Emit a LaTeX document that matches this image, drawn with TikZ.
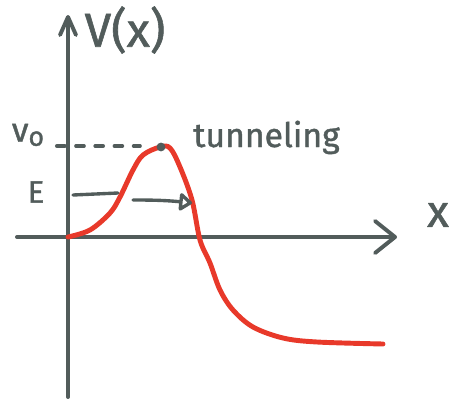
\documentclass[tikz,border=0pt]{standalone}
\usepackage{fontspec}
\setmainfont{Fira Sans}[FakeBold=1.2]
\usetikzlibrary{arrows.meta}
\definecolor{ink}{HTML}{525C5B}
\definecolor{pen}{HTML}{E8392A}

\begin{document}
\begin{tikzpicture}[every node/.style={text=ink, inner sep=0pt}, line cap=round, line join=round,
	axis/.style={draw=ink, line width=2.8pt},
	hand/.style={font=\fontsize{#1}{#1}\selectfont}]
	\useasboundingbox (-1.7,-4.25) rectangle (9.725,5.925);
	\draw[axis, -{Straight Barb[length=4.5mm, width=4mm, round]}] (0,-4.0) -- (0,5.55);
	\draw[axis, -{Straight Barb[length=5mm, width=8mm, round]}] (-1.275,0) -- (8.225,0);
	\node[hand=34] (V) at (1.425,5.175) {V(x)};
	\node[hand=32] (X) at (9.25,0.55) {x};
	\node[hand=24] (V0) at (-1.0,2.55) {v\raisebox{-0.12em}{\fontsize{19}{19}\selectfont o}};
	\node[hand=22] (E) at (-0.8,1.125) {E};
	\node[hand=24, anchor=base west] (T) at (3.125,2.25) {tunneling};
	\coordinate (top) at (2.325,2.25);
	\draw[ink, line width=2.6pt, dash pattern=on 0.2cm off 0.28cm] (-0.28,2.275) -- (1.8,2.275);
	\draw[pen, line width=3.5pt] plot[smooth, tension=0.55] coordinates {(0,0) (0.55,0.175) (1.05,0.6) (1.3,1.0) (1.625,1.675) (1.875,2.05) (2.3,2.25) (2.55,2.225) (2.8,1.75) (3.1,0.925) (3.3,-0.075) (3.55,-0.65) (3.8,-1.325) (4.125,-1.825) (4.625,-2.25) (5.375,-2.525) (6.225,-2.625) (7.875,-2.675)};
	\fill[ink] (top) circle (0.11);
	\coordinate (e1) at (0.125,1.05);
	\coordinate (e2) at (1.25,1.1);
	\coordinate (e3) at (1.625,0.925);
	\coordinate (e4) at (3.1,0.85);
	\draw[ink, line width=2.4pt] (e1) -- (e2);
	\draw[ink, line width=2.4pt, -{Triangle[open, length=3.5mm, width=5mm, round]}] (e3) to[bend left=3] (e4);
\end{tikzpicture}
\end{document}
